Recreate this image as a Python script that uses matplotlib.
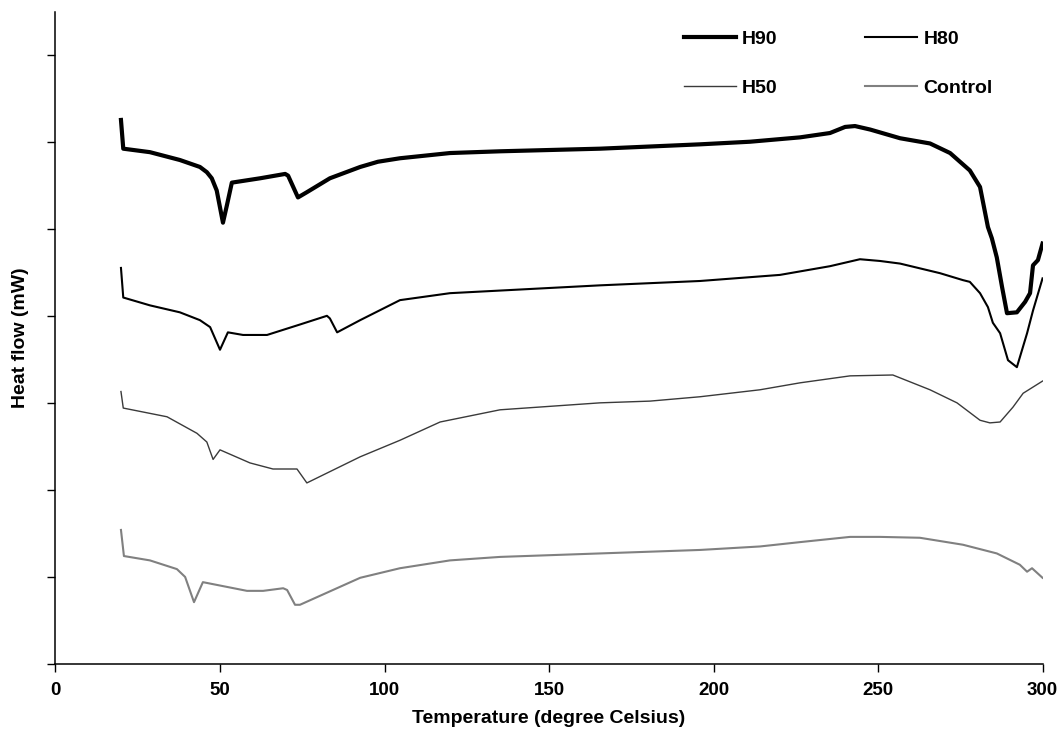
import matplotlib.pyplot as plt

plt.rcParams['font.family'] = ['Liberation Sans', 'DejaVu Sans']
plt.rcParams['font.weight'] = 'bold'

# DSC curves (temperature in deg C, heat flow offset units)
h90_t = [19.9, 20.6, 28.7, 37.8, 43.9, 46.0, 47.5, 49.0, 50.9, 52.1, 53.6, 62.2, 69.8, 70.7,
         73.7, 76.4, 83.4, 92.6, 98.0, 104.7, 119.9, 135.1, 165.5, 195.9, 211.1, 226.3, 235.4,
         240.0, 243.0, 247.6, 256.7, 265.8, 271.9, 277.9, 281.0, 283.4, 284.6, 286.1,
         287.7, 289.2, 292.2, 294.7, 296.2, 297.1, 298.6, 300.0]
h90_y = [6.25, 5.92, 5.88, 5.79, 5.71, 5.65, 5.58, 5.44, 5.07, 5.27, 5.53, 5.58, 5.63, 5.61,
         5.36, 5.42, 5.58, 5.71, 5.77, 5.81, 5.87, 5.89, 5.92, 5.97, 6.00, 6.05, 6.10,
         6.17, 6.18, 6.14, 6.04, 5.98, 5.87, 5.67, 5.48, 5.02, 4.89, 4.67,
         4.33, 4.03, 4.04, 4.16, 4.26, 4.58, 4.64, 4.83]

h80_t = [19.9, 20.6, 28.7, 37.8, 43.9, 47.0, 50.0, 52.4, 57.0, 64.3, 74.3, 82.5, 83.4,
         85.6, 92.6, 104.7, 119.9, 135.1, 165.5, 195.9, 220.2, 235.4, 244.5, 250.6,
         256.7, 268.8, 275.8, 277.9, 281.0, 283.4, 284.9, 287.1, 289.5, 292.2, 295.3,
         297.1, 300.0]
h80_y = [4.55, 4.21, 4.12, 4.04, 3.95, 3.87, 3.61, 3.81, 3.78, 3.78, 3.90, 4.00, 3.97,
         3.81, 3.95, 4.18, 4.26, 4.29, 4.35, 4.40, 4.47, 4.57, 4.65, 4.63,
         4.60, 4.49, 4.41, 4.39, 4.26, 4.10, 3.92, 3.80, 3.49, 3.41, 3.80,
         4.06, 4.43]

h50_t = [19.9, 20.6, 33.9, 43.0, 46.0, 47.9, 50.0, 59.1, 66.1, 73.4, 76.4, 92.6, 104.7,
         116.9, 135.1, 150.3, 165.5, 180.7, 195.9, 214.1, 226.3, 241.5, 254.5, 265.8,
         274.0, 281.0, 284.0, 287.1, 291.0, 294.1, 300.0]
h50_y = [3.13, 2.94, 2.84, 2.65, 2.55, 2.35, 2.46, 2.31, 2.24, 2.24, 2.08, 2.38, 2.57,
         2.78, 2.92, 2.96, 3.00, 3.02, 3.07, 3.15, 3.23, 3.31, 3.32, 3.15,
         3.00, 2.80, 2.77, 2.78, 2.95, 3.11, 3.25]

ctrl_t = [19.9, 20.8, 28.7, 36.9, 39.4, 42.1, 44.8, 58.2, 63.1, 69.2, 70.4, 72.8, 74.3,
          92.6, 104.7, 119.9, 135.1, 165.5, 195.9, 214.1, 226.3, 241.5, 250.6, 262.7,
          275.8, 286.1, 293.1, 295.3, 296.8, 300.0]
ctrl_y = [1.54, 1.24, 1.19, 1.09, 1.00, 0.71, 0.94, 0.84, 0.84, 0.87, 0.85, 0.68, 0.68,
          0.99, 1.10, 1.19, 1.23, 1.27, 1.31, 1.35, 1.40, 1.46, 1.46, 1.45,
          1.37, 1.27, 1.14, 1.06, 1.10, 0.99]

x_ticks = [0, 50, 100, 150, 200, 250, 300]

fig = plt.figure(figsize=(10.61, 7.29), dpi=100)
ax = fig.add_axes([0.0523, 0.0892, 0.9303, 0.8943])

l90, = ax.plot(h90_t, h90_y, color='black', lw=3.0, label='H90')
l80, = ax.plot(h80_t, h80_y, color='black', lw=1.5, label='H80')
l50, = ax.plot(h50_t, h50_y, color='#3a3a3a', lw=1.0, label='H50')
lc, = ax.plot(ctrl_t, ctrl_y, color='#808080', lw=1.5, label='Control')

ax.set_xlim(0, 300)
ax.set_ylim(0, 7.49)
ax.set_xticks(x_ticks)
ax.set_yticks(range(8))
ax.set_yticklabels([])
ax.tick_params(direction='out', length=6, width=1, labelsize=13.5, pad=7)

for s in ['top', 'right']:
    ax.spines[s].set_visible(False)
for s in ['left', 'bottom']:
    ax.spines[s].set_linewidth(1.1)

ax.set_xlabel('Temperature (degree Celsius)', fontsize=14, fontweight='bold', labelpad=8)
ax.set_ylabel('Heat flow (mW)', fontsize=14, fontweight='bold', labelpad=6)

ax.legend([l90, l50, l80, lc], ['H90', 'H50', 'H80', 'Control'], ncol=2,
          loc='upper left', bbox_to_anchor=(0.637, 0.9724), frameon=False,
          borderpad=0, borderaxespad=0, handlelength=2.67, handletextpad=0.31,
          columnspacing=4.5, labelspacing=1.63,
          prop={'size': 14, 'weight': 'bold'})

fig.savefig('out.png', dpi=100)
